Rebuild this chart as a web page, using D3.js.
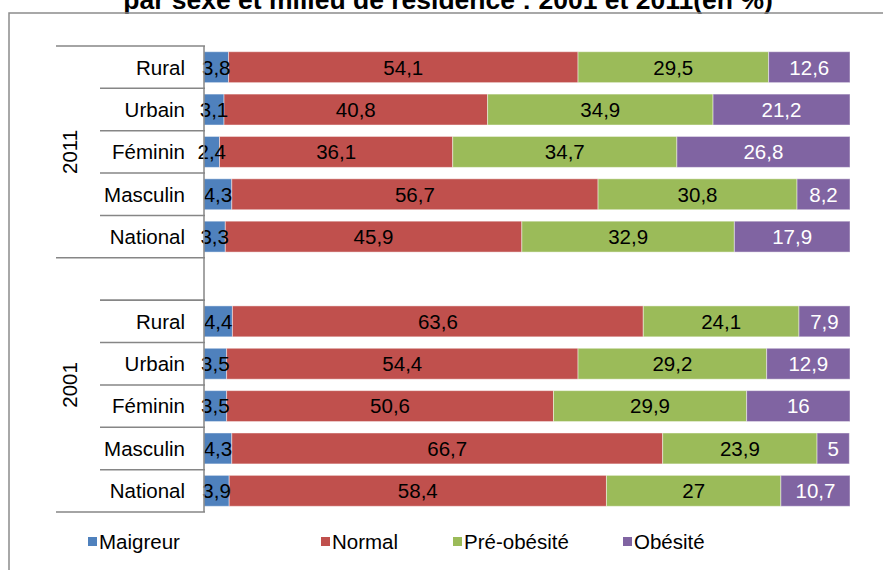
<!DOCTYPE html>
<html>
<head>
<meta charset="utf-8">
<script src="https://cdn.jsdelivr.net/npm/d3@7"></script>
<style>
  body { margin: 0; background: #fff; }
  svg { display: block; font-family: "Liberation Sans", Arial, sans-serif; }
</style>
</head>
<body>
<div id="chart"></div>
<script>
const years = ["2011", "2001"];
const groups = ["Rural", "Urbain", "Féminin", "Masculin", "National"];
const series = ["Maigreur", "Normal", "Pré-obésité", "Obésité"];
const colors = ["#4f81bd", "#c0504d", "#9bbb59", "#8064a2"];

// values per year, in the same order as groups, one array per series
const maigreur2011 = [3.8, 3.1, 2.4, 4.3, 3.3];
const normal2011 = [54.1, 40.8, 36.1, 56.7, 45.9];
const preob2011 = [29.5, 34.9, 34.7, 30.8, 32.9];
const obesite2011 = [12.6, 21.2, 26.8, 8.2, 17.9];

const maigreur2001 = [4.4, 3.5, 3.5, 4.3, 3.9];
const normal2001 = [63.6, 54.4, 50.6, 66.7, 58.4];
const preob2001 = [24.1, 29.2, 29.9, 23.9, 27];
const obesite2001 = [7.9, 12.9, 16, 5, 10.7];

const W = 883, H = 570;
const axisX = 204, plotTop = 46, plotBottom = 512;

// build rows: 2011 group, an empty slot, then 2001 group
const rows = [];
groups.forEach((g, i) => rows.push({key: "2011-" + g, year: "2011", label: g,
  values: [maigreur2011[i], normal2011[i], preob2011[i], obesite2011[i]]}));
rows.push({key: "gap", year: "2001", label: "", values: null});
groups.forEach((g, i) => rows.push({key: "2001-" + g, year: "2001", label: g,
  values: [maigreur2001[i], normal2001[i], preob2001[i], obesite2001[i]]}));

const svg = d3.select("#chart").append("svg")
  .attr("width", W)
  .attr("height", H);

// title (its top is cut off in the original too)
svg.append("text")
  .attr("x", 448)
  .attr("y", 8.5)
  .attr("text-anchor", "middle")
  .style("font-size", "26.5px")
  .style("font-weight", "bold")
  .text("par sexe et milieu de résidence : 2001 et 2011(en %)");

// chart area border
svg.append("rect")
  .attr("x", 9)
  .attr("y", 13)
  .attr("width", 900)
  .attr("height", 600)
  .attr("fill", "none")
  .attr("stroke", "#8c8c8c")
  .attr("stroke-width", 1.5);

const x = d3.scaleLinear().domain([0, 100]).range([axisX, 850]);
const y = d3.scaleBand().domain(rows.map(d => d.key)).range([plotTop, plotBottom])
  .paddingInner(0.27).paddingOuter(0.135);
const step = y.step();
const halfGap = step * y.paddingInner() / 2;

// stacked bars
const stackRows = rows.filter(d => d.values);
stackRows.forEach(r => {
  let acc = 0;
  r.segs = r.values.map((v, i) => {
    const s = {i: i, v: v, x0: acc, x1: acc + v};
    acc += v;
    return s;
  });
});

const barG = svg.append("g");
stackRows.forEach(r => {
  const g = barG.append("g").attr("transform", `translate(0,${y(r.key)})`);
  g.selectAll("rect")
    .data(r.segs)
    .enter().append("rect")
    .attr("x", d => x(d.x0))
    .attr("width", d => x(d.x1) - x(d.x0))
    .attr("height", y.bandwidth())
    .attr("fill", d => colors[d.i])
    .attr("stroke", "#ffffff")
    .attr("stroke-opacity", 0.45)
    .attr("stroke-width", 1);
  g.selectAll("text")
    .data(r.segs)
    .enter().append("text")
    .attr("x", d => (x(d.x0) + x(d.x1)) / 2)
    .attr("y", y.bandwidth() / 2)
    .attr("dy", "0.36em")
    .attr("text-anchor", "middle")
    .style("font-size", "20.5px")
    .style("fill", d => d.i === 3 ? "#ffffff" : "#000000")
    .text(d => String(d.v).replace(".", ","));
});

// hierarchical category axis
const axisG = svg.append("g").attr("stroke", "#868686").attr("stroke-width", 1.5);
axisG.append("line")
  .attr("x1", axisX).attr("x2", axisX)
  .attr("y1", plotTop).attr("y2", plotBottom);

rows.forEach((r, i) => {
  const yy = y(r.key) - halfGap;
  const longTick = i === 0 || r.key === "gap";
  axisG.append("line")
    .attr("x1", longTick ? 56 : 100).attr("x2", axisX + 1)
    .attr("y1", yy).attr("y2", yy);
});
// line closing the gap slot and the bottom line
const gapEnd = y("gap") + y.bandwidth() + halfGap;
axisG.append("line").attr("x1", 100).attr("x2", axisX + 1).attr("y1", gapEnd).attr("y2", gapEnd);
axisG.append("line").attr("x1", 56).attr("x2", axisX + 1).attr("y1", plotBottom).attr("y2", plotBottom);

svg.append("g").selectAll("text")
  .data(stackRows)
  .enter().append("text")
  .attr("x", 185)
  .attr("y", d => y(d.key) + y.bandwidth() / 2)
  .attr("dy", "0.36em")
  .attr("text-anchor", "end")
  .style("font-size", "20.5px")
  .text(d => d.label);

// year labels, centred on their group (2001 includes the empty slot)
const yearSpan = {
  "2011": [plotTop, y("gap") - halfGap],
  "2001": [y("gap") - halfGap, plotBottom]
};
years.forEach(yr => {
  const c = (yearSpan[yr][0] + yearSpan[yr][1]) / 2;
  svg.append("text")
    .attr("transform", `translate(70,${c}) rotate(-90)`)
    .attr("dy", "0.36em")
    .attr("text-anchor", "middle")
    .style("font-size", "20.5px")
    .text(yr);
});

// legend
const legendX = [88, 321, 453, 623];
const legend = svg.selectAll(".legend")
  .data(series)
  .enter().append("g")
  .attr("class", "legend")
  .attr("transform", (d, i) => `translate(${legendX[i]},542)`);

legend.append("rect")
  .attr("x", 0)
  .attr("y", -5)
  .attr("width", 9)
  .attr("height", 9)
  .attr("fill", (d, i) => colors[i]);

legend.append("text")
  .attr("x", 11)
  .attr("dy", "0.36em")
  .style("font-size", "20.5px")
  .text(d => d);
</script>
</body>
</html>
